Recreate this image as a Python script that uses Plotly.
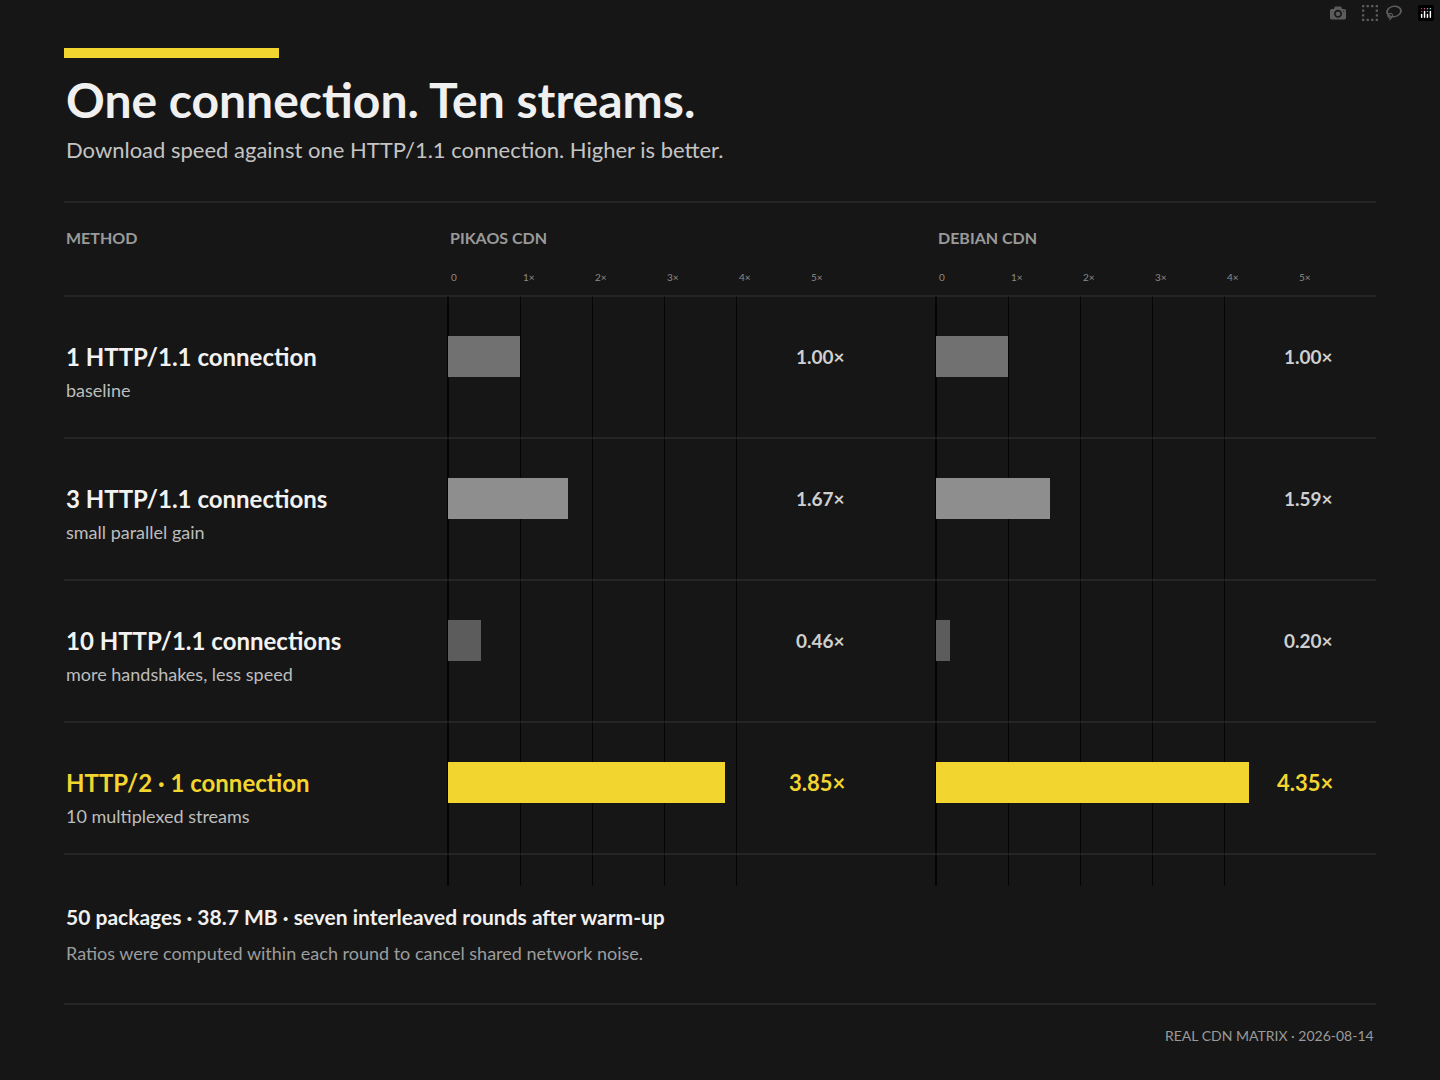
import plotly.graph_objects as go

W, H = 1440, 1080
FONT = "Lato"

methods = ["1 HTTP/1.1 connection", "3 HTTP/1.1 connections",
           "10 HTTP/1.1 connections", "HTTP/2 · 1 connection"]
notes = ["baseline", "small parallel gain", "more handshakes, less speed",
         "10 multiplexed streams"]
pikaos = [1.00, 1.67, 0.46, 3.85]
debian = [1.00, 1.59, 0.20, 4.35]
bar_colors = ["#717171", "#8e8e8e", "#5c5c5c", "#f2d52e"]
tick_vals = [0, 1, 2, 3, 4, 5]
tick_text = ["0", "1×", "2×", "3×", "4×", "5×"]

rows = list(range(len(methods)))
ROW0, ROWH = 356.5, 142.0
TOP, BOT = 296, 886


def py(p):  # pixel from top -> paper y
    return 1 - p / H


def px_(p):
    return p / W


fig = go.Figure()
panels = [("x", "y", pikaos, 448, 808, "PIKAOS CDN"),
          ("x2", "y2", debian, 936, 1296, "DEBIAN CDN")]

yr = [(BOT - ROW0) / ROWH, (TOP - ROW0) / ROWH]
for i, (xa, ya, vals, x0, x1, name) in enumerate(panels):
    fig.add_trace(go.Bar(x=vals, y=rows, orientation="h", width=41 / ROWH,
                         marker=dict(color=bar_colors, line_width=0),
                         xaxis=xa, yaxis=ya, hoverinfo="skip"))
    sfx = "" if i == 0 else "2"
    fig.update_layout(**{
        "xaxis" + sfx: dict(domain=[px_(x0), px_(x1)], range=[0, 5], tickvals=tick_vals,
                            showticklabels=False, showgrid=True, gridcolor="#050505",
                            gridwidth=1, zeroline=True, zerolinecolor="#050505",
                            showline=False, fixedrange=True),
        "yaxis" + sfx: dict(domain=[py(BOT), py(TOP)], range=yr, visible=False,
                            anchor=xa, fixedrange=True),
    })
    fig.add_annotation(x=px_(x0), y=py(238), xref="paper", yref="paper", text="<b>%s</b>" % name,
                       showarrow=False, xanchor="left", yanchor="middle",
                       font=dict(size=16, color="#9a9a9a"))
    for t, tt in zip(tick_vals, tick_text):
        fig.add_annotation(x=t, y=py(277), xref=xa, yref="paper", text=tt, showarrow=False,
                           xanchor="left", yanchor="middle", xshift=1,
                           font=dict(size=10, color="#8a8a8a"))
    for r, v in zip(rows, vals):
        last = r == rows[-1]
        fig.add_annotation(x=px_(x1 + 39), y=r, xref="paper", yref=ya,
                           text="<b>%.2f×</b>" % v, showarrow=False, xanchor="right",
                           yanchor="middle",
                           font=dict(size=22 if last else 19,
                                     color="#f2d52e" if last else "#cfcfcf"))

for r, (m, n) in enumerate(zip(methods, notes)):
    last = r == rows[-1]
    fig.add_annotation(x=px_(64), y=r, xref="paper", yref="y", text="<b>%s</b>" % m,
                       showarrow=False, xanchor="left", yanchor="middle",
                       font=dict(size=24, color="#f2d52e" if last else "#f2f2f2"))
    fig.add_annotation(x=px_(64), y=r + 33 / ROWH, xref="paper", yref="y", text=n,
                       showarrow=False, xanchor="left", yanchor="middle",
                       font=dict(size=18, color="#bdbdbd"))

texts = [
    (64, 100, "<b>One connection. Ten streams.</b>", 48, "#f0f0f0", "left"),
    (64, 150, "Download speed against one HTTP/1.1 connection. Higher is better.", 22, "#c4c4c4", "left"),
    (64, 238, "<b>METHOD</b>", 16, "#9a9a9a", "left"),
    (64, 916, "<b>50 packages · 38.7 MB · seven interleaved rounds after warm-up</b>", 21, "#f0f0f0", "left"),
    (64, 953, "Ratios were computed within each round to cancel shared network noise.", 18, "#9d9d9d", "left"),
    (1376, 1035, "REAL CDN MATRIX · 2026-08-14", 14, "#9a9a9a", "right"),
]
for x, y, t, s, c, a in texts:
    fig.add_annotation(x=px_(x), y=py(y), xref="paper", yref="paper", text=t, showarrow=False,
                       xanchor=a, yanchor="middle", font=dict(size=s, color=c))

shapes = [dict(type="rect", xref="paper", yref="paper", x0=px_(64), x1=px_(279),
               y0=py(58), y1=py(48), fillcolor="#f2d52e", line_width=0)]
for yy in [202, 296, 438, 580, 722, 854, 1004]:
    shapes.append(dict(type="line", xref="paper", yref="paper", x0=px_(64), x1=px_(1376),
                       y0=py(yy), y1=py(yy), line=dict(color="#353535", width=1)))

fig.update_layout(width=W, height=H, margin=dict(l=0, r=0, t=0, b=0), showlegend=False,
                  paper_bgcolor="#161616", plot_bgcolor="rgba(0,0,0,0)",
                  font=dict(family=FONT), shapes=shapes, bargap=0)
fig.write_html("out.html",
               post_script="document.body.style.margin='0';document.body.style.background='#161616';")
